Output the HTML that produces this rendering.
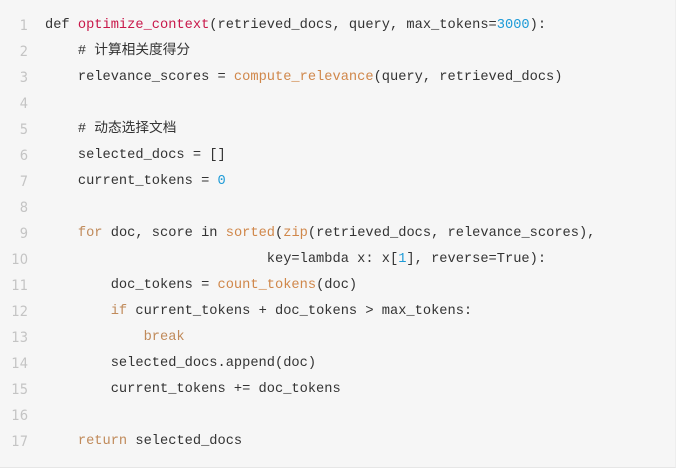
<!DOCTYPE html><html><head><style>
body{margin:0;background:#fff;}
.box{position:absolute;left:0;top:0;width:675px;height:467px;background:#f6f6f6;border-bottom:1px solid #e6e6e6;border-right:1px solid #eee;}
.l{position:absolute;left:0;height:26px;line-height:26px;font-family:"Liberation Mono","Noto Sans CJK SC",monospace;font-size:13.7px;color:#333;white-space:pre;}
.n{position:absolute;left:0;top:0;width:28px;text-align:right;color:#c4c4c4;font-family:"DejaVu Sans Condensed","Liberation Sans Narrow","Liberation Sans",sans-serif;font-size:14.5px;line-height:26px;}
.c{position:absolute;left:45px;top:0;}
.k{color:#c08a5a}.f{color:#c8184a}.o{color:#d0874a}.m{color:#1e9bd7}
</style></head><body><div class="box">
<div class="l" style="top:13px"><span class="n">1</span><span class="c">def <span class="f">optimize_context</span>(retrieved_docs, query, max_tokens=<span class="m">3000</span>):</span></div>
<div class="l" style="top:39px"><span class="n">2</span><span class="c">    # 计算相关度得分</span></div>
<div class="l" style="top:65px"><span class="n">3</span><span class="c">    relevance_scores = <span class="o">compute_relevance</span>(query, retrieved_docs)</span></div>
<div class="l" style="top:91px"><span class="n">4</span></div>
<div class="l" style="top:117px"><span class="n">5</span><span class="c">    # 动态选择文档</span></div>
<div class="l" style="top:143px"><span class="n">6</span><span class="c">    selected_docs = []</span></div>
<div class="l" style="top:169px"><span class="n">7</span><span class="c">    current_tokens = <span class="m">0</span></span></div>
<div class="l" style="top:195px"><span class="n">8</span></div>
<div class="l" style="top:221px"><span class="n">9</span><span class="c">    <span class="k">for</span> doc, score in <span class="o">sorted</span>(<span class="o">zip</span>(retrieved_docs, relevance_scores),</span></div>
<div class="l" style="top:247px"><span class="n">10</span><span class="c">                           key=lambda x: x[<span class="m">1</span>], reverse=True):</span></div>
<div class="l" style="top:273px"><span class="n">11</span><span class="c">        doc_tokens = <span class="o">count_tokens</span>(doc)</span></div>
<div class="l" style="top:299px"><span class="n">12</span><span class="c">        <span class="k">if</span> current_tokens + doc_tokens &gt; max_tokens:</span></div>
<div class="l" style="top:325px"><span class="n">13</span><span class="c">            <span class="k">break</span></span></div>
<div class="l" style="top:351px"><span class="n">14</span><span class="c">        selected_docs.append(doc)</span></div>
<div class="l" style="top:377px"><span class="n">15</span><span class="c">        current_tokens += doc_tokens</span></div>
<div class="l" style="top:403px"><span class="n">16</span></div>
<div class="l" style="top:429px"><span class="n">17</span><span class="c">    <span class="k">return</span> selected_docs</span></div>
</div></body></html>
